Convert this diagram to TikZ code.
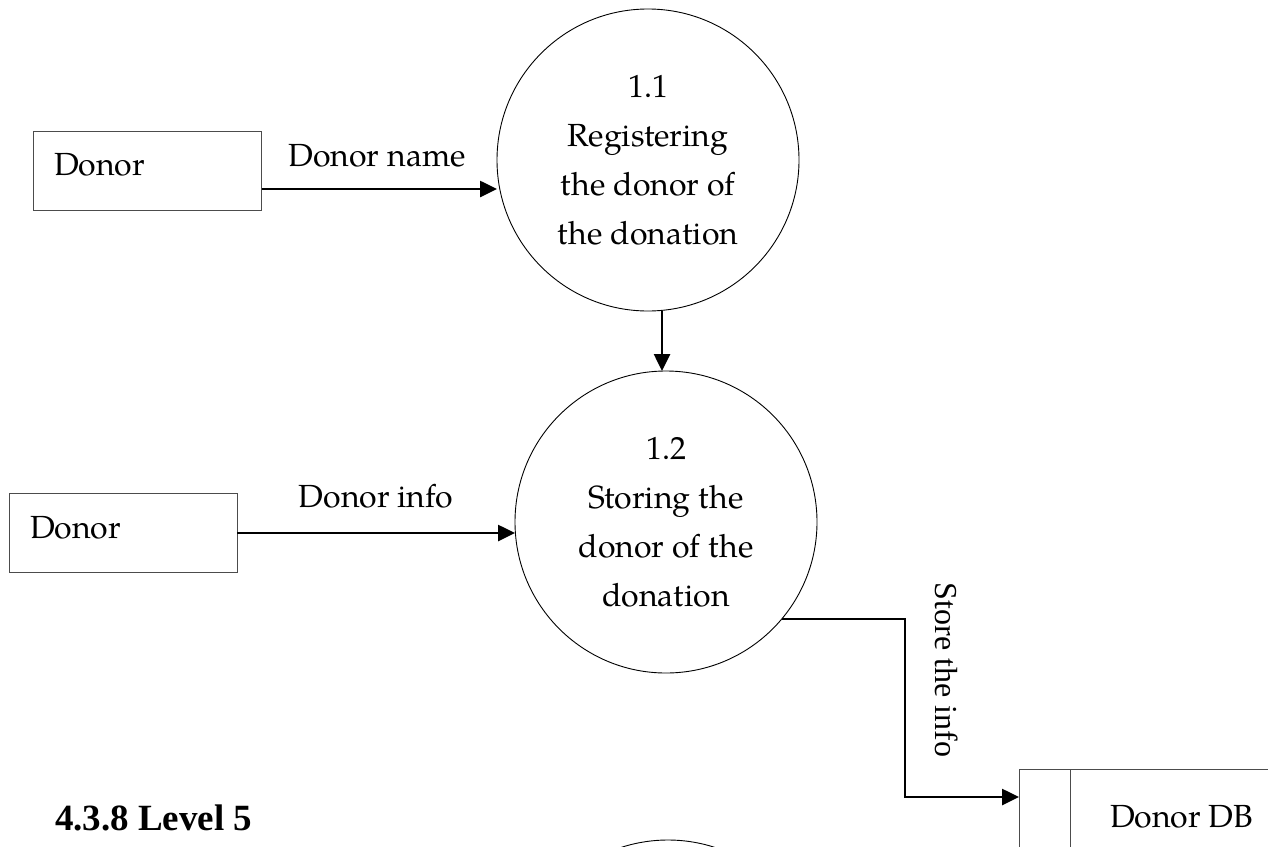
\documentclass[tikz,border=0pt]{standalone}
\usepackage{fontspec}
\setmainfont{TeX Gyre Pagella}
\newfontfamily\timesfont{Liberation Serif}
\usetikzlibrary{arrows.meta}

\begin{document}
\begin{tikzpicture}[x=1pt,y=-1pt,
  every node/.style={font=\fontsize{32}{49}\selectfont, inner sep=0pt, outer sep=0pt},
  entity/.style={draw=black!70, line width=1pt, minimum width=228pt, minimum height=79pt},
  process/.style={draw=black, circle, line width=0.9pt, minimum size=302pt, align=center},
  store/.style={draw=black!70, line width=1pt, minimum width=280pt, minimum height=140pt, anchor=north west},
  flow/.style={line width=2.6pt, -{Triangle[length=17pt,width=16pt]}},
  flowlabel/.style={anchor=base},
]
\useasboundingbox (0,0) rectangle (1268,846);
\clip (0,0) rectangle (1268,846);

% external entities
\node[entity] (b1) at (147.5,170.5) {};
\node[anchor=base west] (b1t) at (54,175) {Donor};
\node[entity] (b2) at (123,532.5) {};
\node[anchor=base west] (b2t) at (30,538) {Donor};

% processes
\node[process] (c1) at (648,160) {1.1\\Registering\\the donor of\\the donation};
\node[process] (c2) at (666,522) {1.2\\Storing the\\donor of the\\donation};
\node[process] (c3) at (668,991) {};

% data store
\node[store] (db) at (1019,769) {};
\draw[draw=black!70, line width=1pt] ([xshift=51pt]db.north west) -- ([xshift=51pt]db.south west);
\node[anchor=base west] (dbt) at (1110,827) {Donor DB};

% data flows
\draw[flow] (b1.east |- 0,189) -- (c1.west |- 0,189);
\node[flowlabel] (l1) at (377,166) {Donor name};

\draw[flow] (c1.south -| 662,0) -- (c2.north -| 662,0);

\draw[flow] (b2.east |- 0,533) -- (c2.west |- 0,533);
\node[flowlabel] (l2) at (376,507) {Donor info};

\coordinate (bend) at (905,797);
\draw[flow] (c2.-40) -| (bend) -- (db.west |- bend);
\node[font=\timesfont\fontsize{32}{38}\selectfont, rotate=-90] (l3) at (947,670) {Store the info};

% section heading
\node[anchor=base west, font=\timesfont\bfseries\fontsize{37}{44}\selectfont] (head) at (55,830) {4.3.8 Level 5};
\end{tikzpicture}
\end{document}
